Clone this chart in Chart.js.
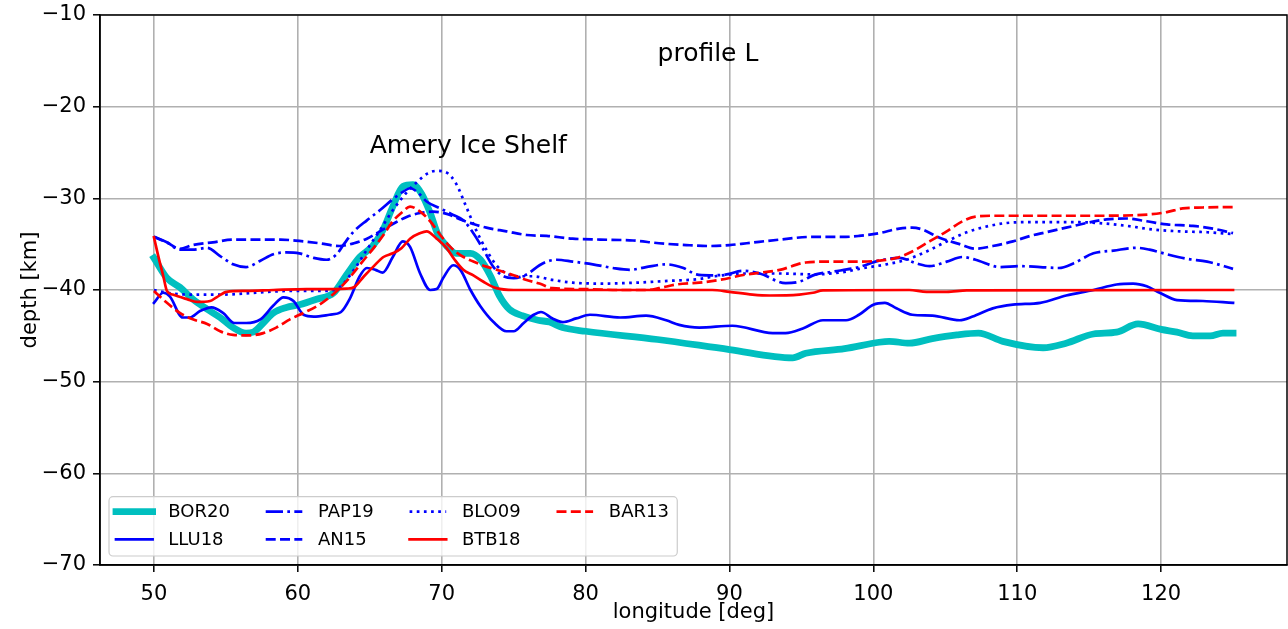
<!DOCTYPE html>
<html>
<head>
<meta charset="utf-8">
<script src="https://cdn.jsdelivr.net/npm/chart.js@4.4.1/dist/chart.umd.min.js"></script>
<style>
  html, body { margin: 0; padding: 0; background: #fff; }
  #wrap { width: 1288px; height: 629px; }
</style>
</head>
<body>
<div id="wrap"><canvas id="myChart" width="1288" height="629"></canvas></div>
<script>
// tick values
var xTicks = [50, 60, 70, 80, 90, 100, 110, 120];
var yTicks = [-70, -60, -50, -40, -30, -20, -10];

// series names, legend is filled column by column (4 columns)
var names = ['BOR20', 'LLU18', 'PAP19', 'AN15', 'BLO09', 'BTB18', 'BAR13'];

// BOR20
var borLon = [50, 50.9, 51.8, 52.7, 53.7, 54.6, 55.5, 56.4, 56.9, 57.6,
  58.3, 59.2, 60.1, 61.3, 62.5, 63.4, 64.3, 65.2, 65.9, 66.6,
  67.3, 68.0, 68.6, 69.2, 69.7, 70.4, 71.0, 72.0, 72.7, 73.4,
  74.0, 74.7, 75.6, 76.7, 77.5, 78.4, 80, 85, 90, 94.4,
  95.3, 98, 100.4, 101.1, 102.5, 104.1, 105.8, 107.3, 109, 111.8,
  113.4, 115.3, 116.9, 118.4, 120, 121.1, 122.2, 123.4, 124.3, 125];
var borDepth = [-36.5, -38.7, -39.7, -41.0, -42.1, -43.0, -44.1, -44.7, -44.6, -43.6,
  -42.5, -41.9, -41.6, -41.0, -40.3, -38.3, -36.4, -35.2, -33.5, -30.9,
  -28.7, -28.5, -29.5, -31.6, -33.8, -35.3, -36.0, -36.0, -36.7, -38.5,
  -40.6, -42.1, -42.8, -43.3, -43.5, -44.1, -44.5, -45.4, -46.5, -47.4,
  -46.9, -46.4, -45.7, -45.6, -45.8, -45.3, -44.9, -44.7, -45.6, -46.3,
  -45.8, -44.8, -44.6, -43.7, -44.3, -44.6, -45.0, -45.0, -44.7, -44.7];

// LLU18
var lluLon = [50, 50.65, 51.1, 52.0, 52.5, 53.2, 54.0, 54.8, 55.6, 56.4,
  57.4, 58.3, 59.0, 59.7, 60.4, 61.1, 62.2, 63.0, 63.6, 64.3,
  64.8, 65.4, 65.9, 66.6, 67.3, 67.8, 68.5, 69.2, 69.65, 70.1,
  70.8, 71.3, 72.0, 72.7, 73.6, 74.5, 75.0, 75.7, 76.4, 76.9,
  77.7, 78.4, 79.35, 80.3, 82.4, 84.2, 85.6, 86.5, 87.9, 90.2,
  93.0, 93.9, 95.1, 96.5, 98.1, 99.0, 100, 100.8, 101.6, 102.7,
  104.1, 106.0, 106.9, 108.3, 109.7, 111.6, 113.4, 115.3, 116.9, 118.05,
  119, 119.9, 121.1, 122.9, 125];
var lluDepth = [-41.4, -40.3, -40.7, -43.0, -43.0, -42.3, -41.9, -42.5, -43.6, -43.6,
  -43.2, -41.7, -40.8, -41.2, -42.7, -42.9, -42.7, -42.4, -41.0, -38.5,
  -37.6, -37.8, -38.1, -36.4, -34.7, -35.3, -38.2, -40.0, -39.9, -38.7,
  -37.3, -37.8, -40.0, -41.8, -43.5, -44.5, -44.5, -43.6, -42.7, -42.4,
  -43.1, -43.5, -43.1, -42.7, -43.0, -42.8, -43.3, -43.8, -44.1, -43.9,
  -44.7, -44.7, -44.2, -43.3, -43.3, -42.7, -41.6, -41.4, -42.0, -42.7,
  -42.8, -43.3, -42.9, -42.0, -41.6, -41.4, -40.6, -40.0, -39.4, -39.3,
  -39.6, -40.3, -41.1, -41.2, -41.4];

// PAP19
var papLon = [50, 50.9, 51.8, 52.7, 53.7, 54.6, 55.5, 56.4, 57.4, 58.3,
  59.2, 60.1, 61.1, 62.0, 62.7, 63.2, 63.9, 64.8, 65.7, 66.6,
  67.3, 67.8, 68.3, 69.0, 69.9, 70.8, 71.5, 72.2, 72.9, 73.6,
  74.3, 75.0, 75.9, 76.8, 77.3, 78.0, 79.1, 80.5, 81.9, 83.1,
  84.2, 85.6, 86.8, 87.7, 88.6, 89.8, 90.9, 92.1, 93.9, 94.85,
  96.0, 97.2, 99.0, 100.4, 101.8, 103.0, 103.9, 105.1, 106.2, 107.1,
  108.8, 110.2, 111.6, 112.9, 113.9, 115.3, 116.7, 118.3, 119.2, 120.4,
  121.8, 123.2, 125];
var papDepth = [-34.2, -34.8, -35.6, -35.6, -35.4, -36.3, -37.2, -37.5, -36.8, -36.1,
  -35.9, -36.0, -36.5, -36.7, -36.1, -35.0, -33.6, -32.4, -31.3, -30.1,
  -29.3, -28.9, -29.3, -30.4, -31.1, -31.8, -32.4, -33.8, -35.6, -37.5,
  -38.5, -38.7, -38.3, -37.3, -36.9, -36.7, -36.9, -37.2, -37.6, -37.8,
  -37.5, -37.2, -37.6, -38.3, -38.4, -38.3, -37.9, -38.2, -39.25, -39.1,
  -38.3, -38.0, -37.5, -36.8, -36.5, -37.1, -37.4, -36.9, -36.4, -36.7,
  -37.5, -37.4, -37.5, -37.6, -37.1, -36.0, -35.7, -35.4, -35.6, -36.1,
  -36.6, -36.9, -37.7];

// AN15
var anLon = [50, 50.9, 51.8, 52.7, 54.1, 55.5, 57.1, 58.8, 60.1, 61.5,
  62.9, 63.9, 64.8, 65.7, 66.6, 67.6, 68.5, 69.4, 70.35, 71.3,
  72.2, 73.1, 74.5, 75.9, 77.3, 79.1, 81.0, 83.3, 85.1, 87.0,
  88.6, 90.0, 91.2, 93.5, 95.8, 98.1, 99.0, 100.4, 101.8, 102.7,
  103.4, 104.6, 106.0, 107.1, 108.3, 109.7, 110.9, 112.0, 113.4, 114.8,
  116.2, 117.6, 119.0, 120.4, 122.2, 123.6, 125];
var anDepth = [-34.2, -34.8, -35.5, -35.1, -34.8, -34.5, -34.5, -34.5, -34.65, -34.9,
  -35.2, -34.9, -34.4, -33.6, -32.8, -32.0, -31.6, -31.45, -31.7, -32.3,
  -32.8, -33.2, -33.6, -34.0, -34.1, -34.4, -34.5, -34.6, -34.9, -35.1,
  -35.2, -35.1, -34.9, -34.5, -34.2, -34.2, -34.1, -33.8, -33.3, -33.2,
  -33.4, -34.3, -35.0, -35.5, -35.2, -34.7, -34.1, -33.7, -33.2, -32.7,
  -32.3, -32.2, -32.5, -32.85, -33.0, -33.3, -33.8];

// BLO09
var bloLon = [50, 50.9, 52.5, 54.8, 57.1, 59.45, 61.8, 62.9, 63.9, 64.8,
  65.7, 66.6, 67.6, 68.3, 69.0, 69.65, 70.35, 71.0, 71.7, 72.4,
  73.1, 73.8, 74.5, 75.4, 76.3, 77.7, 79.1, 81.2, 83.5, 85.8,
  87.9, 89.0, 91.2, 93.5, 95.8, 98.1, 99.0, 100.9, 102.3, 103.7,
  105.1, 106.5, 107.8, 109.2, 110.6, 112.0, 113.9, 115.7, 117.6, 119.4,
  121.3, 123.2, 125];
var bloDepth = [-40.0, -40.3, -40.5, -40.5, -40.3, -40.1, -40.1, -39.7, -37.8, -35.6,
  -33.5, -31.3, -29.3, -28.2, -27.3, -27.0, -27.2, -28.4, -30.9, -33.5,
  -35.6, -37.3, -38.2, -38.5, -38.5, -38.9, -39.2, -39.3, -39.2, -39.0,
  -38.8, -38.5, -38.2, -38.2, -38.3, -38.0, -37.7, -37.2, -36.7, -35.8,
  -34.7, -33.7, -33.1, -32.7, -32.6, -32.6, -32.6, -32.7, -33.0, -33.4,
  -33.6, -33.7, -33.9];

// BTB18
var btbLon = [50, 50.3, 50.65, 50.9, 51.3, 52.3, 53.0, 53.9, 54.35, 55.05,
  56.4, 58.3, 60.6, 62.5, 63.4, 63.9, 64.6, 65.25, 65.95, 66.6,
  67.2, 67.8, 68.5, 68.95, 69.65, 70.35, 70.9, 71.5, 72.2, 72.9,
  73.8, 75.0, 88.8, 90.0, 91.6, 92.8, 94.85, 95.8, 96.5, 102.5,
  103.7, 105.1, 106.5, 125];
var btbDepth = [-34.25, -36.3, -38.5, -40.1, -40.5, -41.0, -41.3, -41.2, -40.8, -40.2,
  -40.1, -40.0, -39.9, -39.9, -39.85, -39.7, -38.5, -37.45, -36.4, -36.0,
  -35.45, -34.4, -33.8, -33.6, -34.4, -35.45, -36.7, -37.8, -38.4, -39.1,
  -39.8, -40.0, -40.0, -40.2, -40.5, -40.6, -40.5, -40.3, -40.05, -40.0,
  -40.2, -40.2, -40.05, -40.0];

// BAR13
var barLon = [50, 50.9, 51.8, 52.7, 53.7, 54.6, 55.5, 56.7, 57.6, 58.5,
  59.45, 60.4, 61.5, 62.5, 63.4, 64.6, 65.25, 65.95, 66.6, 67.3,
  67.8, 68.5, 69.2, 69.9, 70.6, 71.3, 72.2, 73.1, 74.05, 75.0,
  75.9, 76.8, 77.7, 80.0, 82.4, 84.2, 85.1, 86.3, 87.9, 89.3,
  91.2, 93.5, 95.3, 97.2, 99.0, 100.4, 101.6, 102.7, 103.9, 105.1,
  106.2, 107.1, 108.3, 115.3, 119.2, 120.4, 121.5, 122.9, 125];
var barDepth = [-40.1, -41.4, -42.5, -43.2, -43.7, -44.5, -44.9, -44.95, -44.7, -44.1,
  -43.2, -42.5, -41.6, -40.4, -39.0, -36.7, -35.45, -34.0, -32.5, -31.45,
  -30.9, -31.45, -32.5, -34.0, -35.3, -36.2, -36.9, -37.45, -37.9, -38.4,
  -38.9, -39.3, -39.8, -39.9, -40.0, -40.0, -39.8, -39.4, -39.2, -38.9,
  -38.3, -37.8, -37.0, -36.9, -36.9, -36.8, -36.5, -35.8, -34.7, -33.6,
  -32.5, -32.0, -31.9, -31.9, -31.75, -31.5, -31.1, -31.0, -30.95];

// text placed in data coordinates
var profileText = 'profile L';
var profilePos = [85, -15];
var ameryText = 'Amery Ice Shelf';
var ameryPos = [65, -25];

var FONT = "'DejaVu Sans', 'Liberation Sans', sans-serif";
var lw = 2.7;

function pts(lon, depth) {
    return lon.map(function (v, i) { return { x: v, y: depth[i] }; });
}

var datasets = [
    { label: names[0], data: pts(borLon, borDepth), borderColor: '#00bfbf', borderWidth: 6.8, borderDash: [], borderCapStyle: 'square' },
    { label: names[1], data: pts(lluLon, lluDepth), borderColor: '#0000ff', borderWidth: lw, borderDash: [], borderCapStyle: 'square' },
    { label: names[2], data: pts(papLon, papDepth), borderColor: '#0000ff', borderWidth: lw, borderDash: [6.4 * lw, 1.6 * lw, 1 * lw, 1.6 * lw] },
    { label: names[3], data: pts(anLon, anDepth), borderColor: '#0000ff', borderWidth: lw, borderDash: [3.7 * lw, 1.6 * lw] },
    { label: names[4], data: pts(bloLon, bloDepth), borderColor: '#0000ff', borderWidth: lw, borderDash: [1 * lw, 1.65 * lw] },
    { label: names[5], data: pts(btbLon, btbDepth), borderColor: '#ff0000', borderWidth: lw, borderDash: [], borderCapStyle: 'square' },
    { label: names[6], data: pts(barLon, barDepth), borderColor: '#ff0000', borderWidth: lw, borderDash: [3.7 * lw, 1.6 * lw] }
];
datasets.forEach(function (d, i) {
    d.pointRadius = 0;
    d.fill = false;
    d.cubicInterpolationMode = 'monotone';
    d.order = datasets.length - i; // first series at the bottom, like matplotlib
});

// frame, annotations and a matplotlib style legend (column-major, 4 columns)
var extras = {
    id: 'extras',
    afterDatasetsDraw: function (chart) {
        var ctx = chart.ctx;
        var area = chart.chartArea;
        var xs = chart.scales.x, ys = chart.scales.y;

        ctx.save();
        ctx.strokeStyle = '#000';
        ctx.lineWidth = 1.5;
        ctx.strokeRect(area.left, area.top, area.right - area.left, area.bottom - area.top);

        ctx.fillStyle = '#000';
        ctx.font = '25px ' + FONT;
        ctx.textAlign = 'left';
        ctx.textBaseline = 'alphabetic';
        ctx.fillText(profileText, xs.getPixelForValue(profilePos[0]), ys.getPixelForValue(profilePos[1]));
        ctx.fillText(ameryText, xs.getPixelForValue(ameryPos[0]), ys.getPixelForValue(ameryPos[1]));

        // legend
        var fs = 18;
        ctx.font = fs + 'px ' + FONT;
        var handleLen = 36.6, textPad = 15.7, colSpace = 35.8, rowH = 27.6;
        var ncol = 4, nrow = 2;
        var boxLeft = area.left + 9, boxBottom = area.bottom - 9;
        var boxTop = boxBottom - 59.3;
        var colX = [];
        var x = boxLeft + 7;
        for (var c = 0; c < ncol; c++) {
            colX.push(x);
            var maxW = 0;
            for (var r = 0; r < nrow; r++) {
                var k = c * nrow + r;
                if (k < names.length) maxW = Math.max(maxW, ctx.measureText(names[k]).width);
            }
            x += handleLen + textPad + maxW + (c < ncol - 1 ? colSpace : 0);
        }
        var boxRight = x + 8.4;
        ctx.beginPath();
        ctx.roundRect(boxLeft, boxTop, boxRight - boxLeft, boxBottom - boxTop, 4);
        ctx.fillStyle = 'rgba(255,255,255,0.8)';
        ctx.fill();
        ctx.strokeStyle = '#cccccc';
        ctx.lineWidth = 1.2;
        ctx.stroke();

        ctx.textBaseline = 'middle';
        for (var k = 0; k < names.length; k++) {
            var col = Math.floor(k / nrow), row = k % nrow;
            var hx = colX[col], hy = boxTop + 15 + row * rowH;
            var ds = datasets[k];
            ctx.beginPath();
            ctx.strokeStyle = ds.borderColor;
            ctx.lineWidth = ds.borderWidth;
            ctx.setLineDash(ds.borderDash || []);
            ctx.lineCap = ds.borderCapStyle || 'butt';
            ctx.moveTo(hx, hy);
            ctx.lineTo(hx + handleLen, hy);
            ctx.stroke();
            ctx.setLineDash([]);
            ctx.fillStyle = '#000';
            ctx.fillText(names[k], hx + handleLen + textPad, hy + 1);
        }
        ctx.restore();
    }
};

function minusLabel(v) {
    return v < 0 ? '\u2212' + Math.abs(v) : String(v);
}

var ctx = document.getElementById('myChart').getContext('2d');
var myChart = new Chart(ctx, {
    type: 'line',
    data: { datasets: datasets },
    plugins: [extras],
    options: {
        responsive: false,
        animation: false,
        devicePixelRatio: 1,
        layout: { padding: { left: 0, right: 1, top: 15, bottom: 0 } },
        plugins: {
            legend: { display: false },
            tooltip: { enabled: false }
        },
        scales: {
            x: {
                type: 'linear',
                min: 46.25,
                max: 128.75,
                afterFit: function (scale) { scale.height = 64; },
                afterBuildTicks: function (scale) {
                    scale.ticks = xTicks.map(function (v) { return { value: v }; });
                },
                ticks: {
                    color: '#000',
                    font: { family: FONT, size: 21 },
                    padding: 10,
                    maxRotation: 0,
                    callback: function (v) { return minusLabel(v); }
                },
                grid: { color: '#b0b0b0', lineWidth: 1.6, tickLength: 7, tickColor: '#000', tickWidth: 1.5 },
                border: { display: true, color: '#000', width: 1.5 },
                title: { display: true, text: 'longitude [deg]', color: '#000', font: { family: FONT, size: 21 }, padding: { top: 4, bottom: 4 } }
            },
            y: {
                type: 'linear',
                min: -70,
                max: -10,
                afterFit: function (scale) { scale.width = 100; },
                afterBuildTicks: function (scale) {
                    scale.ticks = yTicks.map(function (v) { return { value: v }; });
                },
                ticks: {
                    color: '#000',
                    font: { family: FONT, size: 21, lineHeight: 0.75 },
                    padding: 7,
                    callback: function (v) { return minusLabel(v); }
                },
                grid: { color: '#b0b0b0', lineWidth: 1.6, tickLength: 7, tickColor: '#000', tickWidth: 1.5 },
                border: { display: true, color: '#000', width: 1.5 },
                title: { display: true, text: 'depth [km]', color: '#000', font: { family: FONT, size: 21 }, padding: { top: 18, bottom: 18 } }
            }
        }
    }
});
</script>
</body>
</html>
